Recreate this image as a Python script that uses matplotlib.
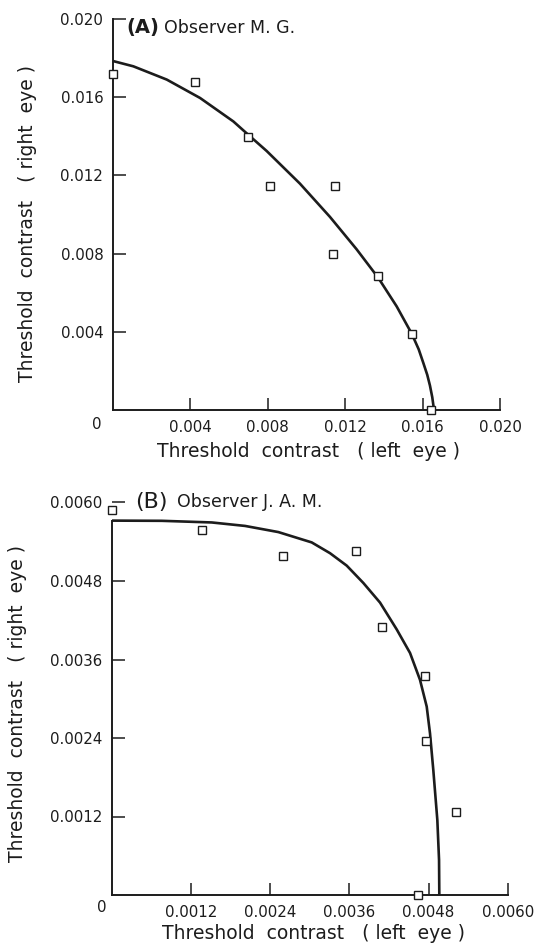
import matplotlib
matplotlib.use("Agg")
import matplotlib.pyplot as plt

# ---------------- data ----------------
# Panel A : Observer M.G.
a_left = [0.0, 0.00422, 0.00696, 0.00813, 0.01146, 0.01135, 0.01371, 0.01545, 0.01643]
a_right = [0.01719, 0.01678, 0.01398, 0.01147, 0.01146, 0.00796, 0.00687, 0.00387, 0.0]
a_curve_x = [0.0, 0.00105, 0.00278, 0.00450, 0.00622, 0.00699, 0.00794, 0.00966,
             0.01121, 0.01259, 0.01371, 0.01466, 0.01544, 0.01580, 0.01604, 0.01624,
             0.01638, 0.01650, 0.01659]
a_curve_y = [0.01785, 0.01758, 0.01690, 0.01596, 0.01476, 0.01408, 0.01325, 0.01158,
             0.00988, 0.00822, 0.00676, 0.00530, 0.00390, 0.00310, 0.00240, 0.00180,
             0.00125, 0.00065, 0.0]
a_ticks = [0.004, 0.008, 0.012, 0.016, 0.020]
a_ticklabels = ["0.004", "0.008", "0.012", "0.016", "0.020"]

# Panel B : Observer J.A.M.
b_left = [0.0, 0.001370, 0.002588, 0.003700, 0.004089, 0.004746, 0.004756, 0.005211, 0.004645]
b_right = [0.005887, 0.005581, 0.005183, 0.005265, 0.004093, 0.003353, 0.002359, 0.001274, 0.0]
b_curve_x = [0.0, 0.000754, 0.001512, 0.002017, 0.002522, 0.003028, 0.003306, 0.003559,
             0.003811, 0.004064, 0.004317, 0.004519, 0.004670, 0.004772, 0.004822,
             0.004872, 0.004933, 0.004959, 0.004963]
b_curve_y = [0.005723, 0.005720, 0.005695, 0.005642, 0.005548, 0.005390, 0.005225, 0.005035,
             0.004770, 0.004470, 0.004060, 0.003700, 0.003290, 0.002880, 0.002470,
             0.001910, 0.001147, 0.000535, 0.0]
b_ticks = [0.0012, 0.0024, 0.0036, 0.0048, 0.0060]
b_ticklabels = ["0.0012", "0.0024", "0.0036", "0.0048", "0.0060"]

xlabel = "Threshold  contrast   ( left  eye )"
ylabel = "Threshold  contrast   ( right  eye )"

# ---------------- figure ----------------
plt.rcParams['font.family'] = ['DejaVu Sans']
fig = plt.figure(figsize=(5.35, 9.46), dpi=100)
ink = "#1c1c1c"

axA = fig.add_axes([113 / 535, 1 - 410 / 946, 387 / 535, 391 / 946])
axB = fig.add_axes([112 / 535, 1 - 895 / 946, 395.7 / 535, 392.5 / 946])


def style(ax, lim, ticks, labels):
    ax.set_xlim(0, lim)
    ax.set_ylim(0, lim)
    for s in ("top", "right"):
        ax.spines[s].set_visible(False)
    for s in ("left", "bottom"):
        ax.spines[s].set_linewidth(1.4)
        ax.spines[s].set_color(ink)
    ax.set_xticks(ticks)
    ax.set_xticklabels(labels)
    ax.set_yticks(ticks)
    ax.set_yticklabels(labels)
    ax.tick_params(direction="in", length=9, width=1.1, color=ink,
                   labelsize=10.8, labelcolor=ink, pad=7)
    ax.set_facecolor("white")


style(axA, 0.020, a_ticks, a_ticklabels)
style(axB, 0.0060, b_ticks, b_ticklabels)
axB.spines["left"].set_bounds(0, b_curve_y[0])

for ax, cx, cy, px, py in ((axA, a_curve_x, a_curve_y, a_left, a_right),
                           (axB, b_curve_x, b_curve_y, b_left, b_right)):
    ax.plot(cx, cy, color=ink, lw=1.9, clip_on=False, zorder=3,
            solid_capstyle="butt", solid_joinstyle="round")
    ax.plot(px, py, ls="none", marker="s", ms=5.2, mfc="white", mec=ink,
            mew=1.0, clip_on=False, zorder=4)

# corner zeros
axA.text(-0.041, -0.036, "0", transform=axA.transAxes, ha="center", va="center",
         fontsize=10.8, color=ink)
axB.text(-0.025, -0.033, "0", transform=axB.transAxes, ha="center", va="center",
         fontsize=10.8, color=ink)

# axis labels
axA.set_xlabel(xlabel, fontsize=13.5, color=ink, va="center", ha="center")
axA.xaxis.set_label_coords(0.505, -0.107)
axA.set_ylabel(ylabel, fontsize=13.5, color=ink, va="center", ha="center")
axA.yaxis.set_label_coords(-0.22, 0.476)

axB.set_xlabel(xlabel, fontsize=13.5, color=ink, va="center", ha="center")
axB.xaxis.set_label_coords(0.51, -0.097)
axB.set_ylabel(ylabel, fontsize=13.5, color=ink, va="center", ha="center")
axB.yaxis.set_label_coords(-0.24, 0.489)

# panel titles
axA.text(0.035, 0.977, "(A)", transform=axA.transAxes, ha="left", va="center",
         fontsize=14, fontweight="bold", color=ink)
axA.text(0.133, 0.977, "Observer M. G.", transform=axA.transAxes, ha="left",
         va="center", fontsize=12.5, color=ink)
axB.text(0.058, 1.002, "(B)", transform=axB.transAxes, ha="left", va="center",
         fontsize=16, color=ink)
axB.text(0.1635, 1.002, "Observer J. A. M.", transform=axB.transAxes, ha="left",
         va="center", fontsize=12.5, color=ink)

fig.savefig("out.png", dpi=100, facecolor="white")
